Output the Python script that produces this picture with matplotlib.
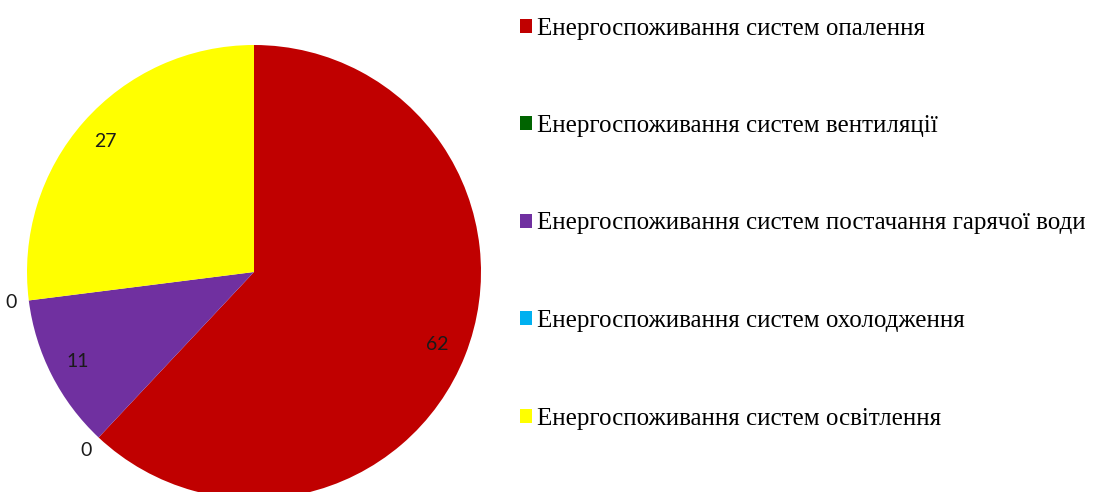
import numpy as np
import matplotlib.pyplot as plt
from matplotlib.patches import Patch

labels = ["Енергоспоживання систем опалення",
          "Енергоспоживання систем вентиляції",
          "Енергоспоживання систем постачання гарячої води",
          "Енергоспоживання систем охолодження",
          "Енергоспоживання систем освітлення"]
values = [62, 0, 11, 0, 27]
colors = ["#c00000", "#006400", "#7030a0", "#00b0f0", "#ffff00"]

fig = plt.figure(figsize=(10.93, 4.92), dpi=100)
# pie is a little taller than the figure, bottom edge gets cut
ax = fig.add_axes([27 / 1093, -7 / 492, 454 / 1093, 454 / 492])
wedges, _ = ax.pie(values, colors=colors, startangle=90, counterclock=False,
                   radius=1, wedgeprops=dict(linewidth=0))
for w in wedges:
    w.set_clip_on(False)
ax.set_xlim(-1, 1)
ax.set_ylim(-1, 1)
ax.set_aspect("equal")
ax.axis("off")

# value labels: inside the slice, zeros pushed just outside the rim
total = sum(values)
start = 90.0
for v in values:
    span = v / total * 360
    mid = np.deg2rad(start - span / 2)
    r = 0.87 if v > 0 else 1.08
    ax.text(r * np.cos(mid), r * np.sin(mid), str(v), ha="center", va="center",
            fontsize=14, family="Lato", color="#1a1a1a", clip_on=False)
    start -= span

handles = [Patch(facecolor=c, edgecolor="none") for c in colors]
fig.legend(handles, labels, loc="upper left", bbox_to_anchor=(502 / 1093, 1.0),
           frameon=False, prop=dict(family="Liberation Serif", size=18),
           handlelength=0.5, handleheight=0.5, handletextpad=0.2,
           labelspacing=3.02, borderaxespad=0.3)

fig.savefig("out.png", dpi=100)
